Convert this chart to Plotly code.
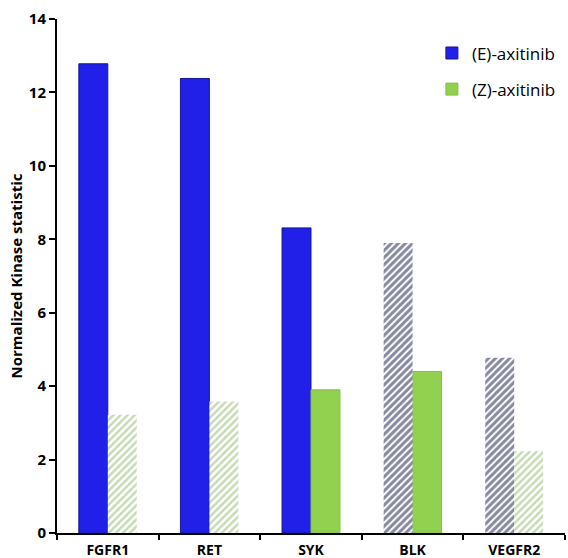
import plotly.graph_objects as go

categories = ["FGFR1", "RET", "SYK", "BLK", "VEGFR2"]
e_values = [12.78, 12.38, 8.31, 7.9, 4.77]
z_values = [3.22, 3.58, 3.9, 4.4, 2.23]
e_hatched = [False, False, False, True, True]
z_hatched = [True, True, False, False, True]
y_ticks = [0, 2, 4, 6, 8, 10, 12, 14]

BLUE = "#2020E8"
NAVY = "#0F1440"
GREEN = "#92D050"
LIGHT_GREEN = "#8DB86A"

def pick(values, flags, want):
    return [v if f == want else None for v, f in zip(values, flags)]

fig = go.Figure()
# solid bars
fig.add_trace(go.Bar(
    x=categories, y=pick(e_values, e_hatched, False), name="(E)-axitinib",
    offsetgroup="E", legendgroup="e",
    marker=dict(color=BLUE, line=dict(color="#15159A", width=1)),
))
fig.add_trace(go.Bar(
    x=categories, y=pick(z_values, z_hatched, False), name="(Z)-axitinib",
    offsetgroup="Z", legendgroup="z",
    marker=dict(color=GREEN, line=dict(color="#86C048", width=1)),
))
# hatched bars
fig.add_trace(go.Bar(
    x=categories, y=pick(e_values, e_hatched, True), name="(E)-axitinib",
    offsetgroup="E", legendgroup="e", showlegend=False,
    marker=dict(color="white", line=dict(width=0),
                pattern=dict(shape="/", fgcolor=NAVY, bgcolor="white",
                             size=5, solidity=0.6, fillmode="overlay")),
))
fig.add_trace(go.Bar(
    x=categories, y=pick(z_values, z_hatched, True), name="(Z)-axitinib",
    offsetgroup="Z", legendgroup="z", showlegend=False,
    marker=dict(color="white", line=dict(width=0),
                pattern=dict(shape="/", fgcolor=LIGHT_GREEN, bgcolor="white",
                             size=5, solidity=0.5, fillmode="overlay")),
))

fig.update_layout(
    width=568, height=558,
    margin=dict(l=57, r=3, t=19, b=25),
    paper_bgcolor="white", plot_bgcolor="white",
    barmode="group", bargap=0.43, bargroupgap=0,
    font=dict(family="Open Sans, Liberation Sans, sans-serif", color="black"),
    legend=dict(x=0.738, y=0.968, xanchor="left", yanchor="top",
                font=dict(size=17, color="black"), bgcolor="rgba(0,0,0,0)",
                traceorder="grouped", tracegroupgap=11, itemwidth=30),
    xaxis=dict(
        automargin=False,
        showline=True, linecolor="black", linewidth=2,
        ticks="outside", tickson="boundaries", ticklen=5, tickwidth=2, tickcolor="black",
        ticklabelstandoff=3,
        tickfont=dict(size=14, family="Open Sans, sans-serif", weight="bold"),
    ),
    yaxis=dict(
        automargin=False,
        range=[0, 14], tickvals=y_ticks, showgrid=False, zeroline=False,
        showline=True, linecolor="black", linewidth=2,
        ticks="outside", ticklen=6, tickwidth=2, tickcolor="black",
        tickfont=dict(size=15, family="Open Sans, sans-serif", weight="bold"),
        title=dict(text="Normalized Kinase statistic", standoff=3,
                   font=dict(size=15, family="Open Sans, sans-serif", weight="bold")),
    ),
)

fig.write_html("out.html", config={"displayModeBar": False},
               post_script="document.body.style.margin='0';")
